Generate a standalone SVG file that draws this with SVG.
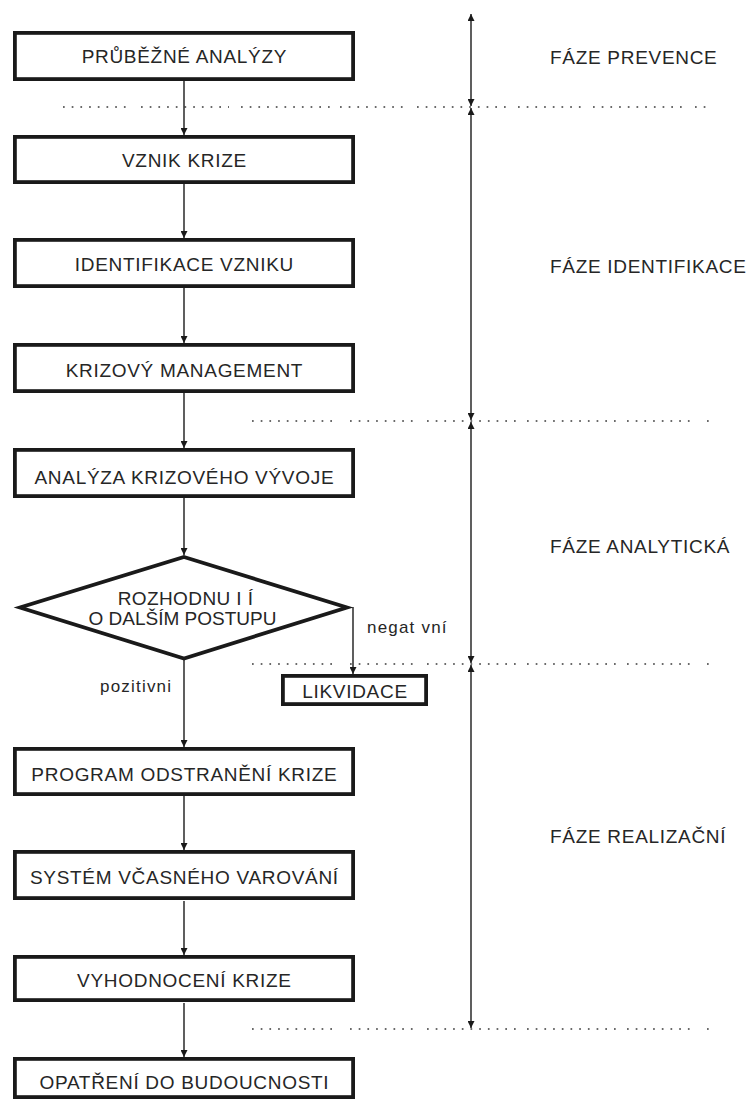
<svg xmlns="http://www.w3.org/2000/svg" width="749" height="1101" viewBox="0 0 749 1101">
<style>
.box{fill:#fff;stroke:#1a1a1a;stroke-width:3.8}
.t{font-family:"Liberation Sans",Arial,sans-serif;font-size:19px;letter-spacing:0.7px;fill:#262626;text-anchor:middle}
.ph{font-family:"Liberation Sans",Arial,sans-serif;font-size:19px;letter-spacing:0.7px;fill:#262626}
.lbl{font-family:"Liberation Sans",Arial,sans-serif;font-size:17px;letter-spacing:1.2px;fill:#262626}
.c{fill:none;stroke:#1a1a1a;stroke-width:1.4}
.dot{fill:none;stroke:#3a3a3a;stroke-width:1.7;stroke-dasharray:1.7 7}
</style>
<defs>
<marker id="ah" viewBox="0 0 8 8" refX="8" refY="4" markerWidth="7" markerHeight="7" markerUnits="userSpaceOnUse" orient="auto-start-reverse">
<path d="M0,0 L8,4 L0,8 z" fill="#1a1a1a"/>
</marker>
</defs>

<g id="dotted-lines">
<path class="dot" d="M63 107H129 M141 107H229 M241 107H331 M340 107H406 M417 107H508 M518 107H584 M593 107H684 M695 107H706"/>
<path class="dot" d="M252 421H339 M350 421H418 M427 421H518 M527 421H618 M627 421H694 M707 421H709"/>
<path class="dot" d="M252 664H339 M350 664H418 M427 664H518 M527 664H618 M627 664H694 M707 664H709"/>
<path class="dot" d="M252 1029H339 M350 1029H418 M427 1029H518 M527 1029H618 M627 1029H694 M707 1029H709"/>
</g>

<g id="connectors">
<line class="c" x1="184" y1="81" x2="184" y2="135" marker-end="url(#ah)"/>
<line class="c" x1="184" y1="184" x2="184" y2="238" marker-end="url(#ah)"/>
<line class="c" x1="184" y1="288" x2="184" y2="343" marker-end="url(#ah)"/>
<line class="c" x1="184" y1="393" x2="184" y2="448" marker-end="url(#ah)"/>
<line class="c" x1="184" y1="498" x2="184" y2="555" marker-end="url(#ah)"/>
<line class="c" x1="184" y1="660" x2="184" y2="747" marker-end="url(#ah)"/>
<line class="c" x1="184" y1="796" x2="184" y2="850" marker-end="url(#ah)"/>
<line class="c" x1="184" y1="901" x2="184" y2="955" marker-end="url(#ah)"/>
<line class="c" x1="184" y1="1003" x2="184" y2="1057" marker-end="url(#ah)"/>
<line class="c" x1="353" y1="607" x2="353" y2="674" marker-end="url(#ah)"/>
<text class="lbl" x="367" y="633">negat vní</text>
<text class="lbl" x="100" y="692">pozitivni</text>
</g>

<g id="phase-axis">
<line class="c" x1="471" y1="14" x2="471" y2="106" marker-start="url(#ah)" marker-end="url(#ah)" stroke-width="1.6"/>
<line class="c" x1="471" y1="108" x2="471" y2="420" marker-start="url(#ah)" marker-end="url(#ah)" stroke-width="1.6"/>
<line class="c" x1="471" y1="422" x2="471" y2="663" marker-start="url(#ah)" marker-end="url(#ah)" stroke-width="1.6"/>
<line class="c" x1="471" y1="665" x2="471" y2="1028" marker-start="url(#ah)" marker-end="url(#ah)" stroke-width="1.6"/>
</g>

<g id="phase-labels">
<text class="ph" x="550" y="64">FÁZE PREVENCE</text>
<text class="ph" x="550" y="273">FÁZE IDENTIFIKACE</text>
<text class="ph" x="550" y="553">FÁZE ANALYTICKÁ</text>
<text class="ph" x="550" y="843">FÁZE REALIZAČNÍ</text>
</g>

<g id="n1"><rect class="box" x="14.9" y="32.9" width="338.2" height="46.2"/><text class="t" x="184.4" y="63">PRŮBĚŽNÉ ANALÝZY</text></g>
<g id="n2"><rect class="box" x="14.9" y="136.9" width="338.2" height="45.2"/><text class="t" x="184.4" y="167">VZNIK KRIZE</text></g>
<g id="n3"><rect class="box" x="14.9" y="239.9" width="338.2" height="46.2"/><text class="t" x="184.4" y="271">IDENTIFIKACE VZNIKU</text></g>
<g id="n4"><rect class="box" x="14.9" y="344.9" width="338.2" height="46.2"/><text class="t" x="184.4" y="377">KRIZOVÝ MANAGEMENT</text></g>
<g id="n5"><rect class="box" x="14.9" y="449.9" width="338.2" height="46.2"/><text class="t" x="184.4" y="484">ANALÝZA KRIZOVÉHO VÝVOJE</text></g>
<g id="n6"><polygon class="box" points="184,557 347,607.5 184,658.5 20,607.5"/>
<text class="t" x="185.5" y="605" style="letter-spacing:0.4px">ROZHODNU I Í</text>
<text class="t" x="182.5" y="625" style="letter-spacing:0px">O DALŠÍM POSTUPU</text></g>
<g id="n7"><rect class="box" x="282.9" y="675.9" width="143.2" height="28.2"/><text class="t" x="355" y="698">LIKVIDACE</text></g>
<g id="n8"><rect class="box" x="14.9" y="748.9" width="338.2" height="45.2"/><text class="t" x="184.4" y="781">PROGRAM ODSTRANĚNÍ KRIZE</text></g>
<g id="n9"><rect class="box" x="14.9" y="851.9" width="338.2" height="46.2"/><text class="t" x="184.4" y="884">SYSTÉM VČASNÉHO VAROVÁNÍ</text></g>
<g id="n10"><rect class="box" x="14.9" y="956.9" width="338.2" height="43.2"/><text class="t" x="184.4" y="987">VYHODNOCENÍ KRIZE</text></g>
<g id="n11"><rect class="box" x="14.9" y="1058.9" width="338.2" height="38.2"/><text class="t" x="184.4" y="1089">OPATŘENÍ DO BUDOUCNOSTI</text></g>
</svg>
